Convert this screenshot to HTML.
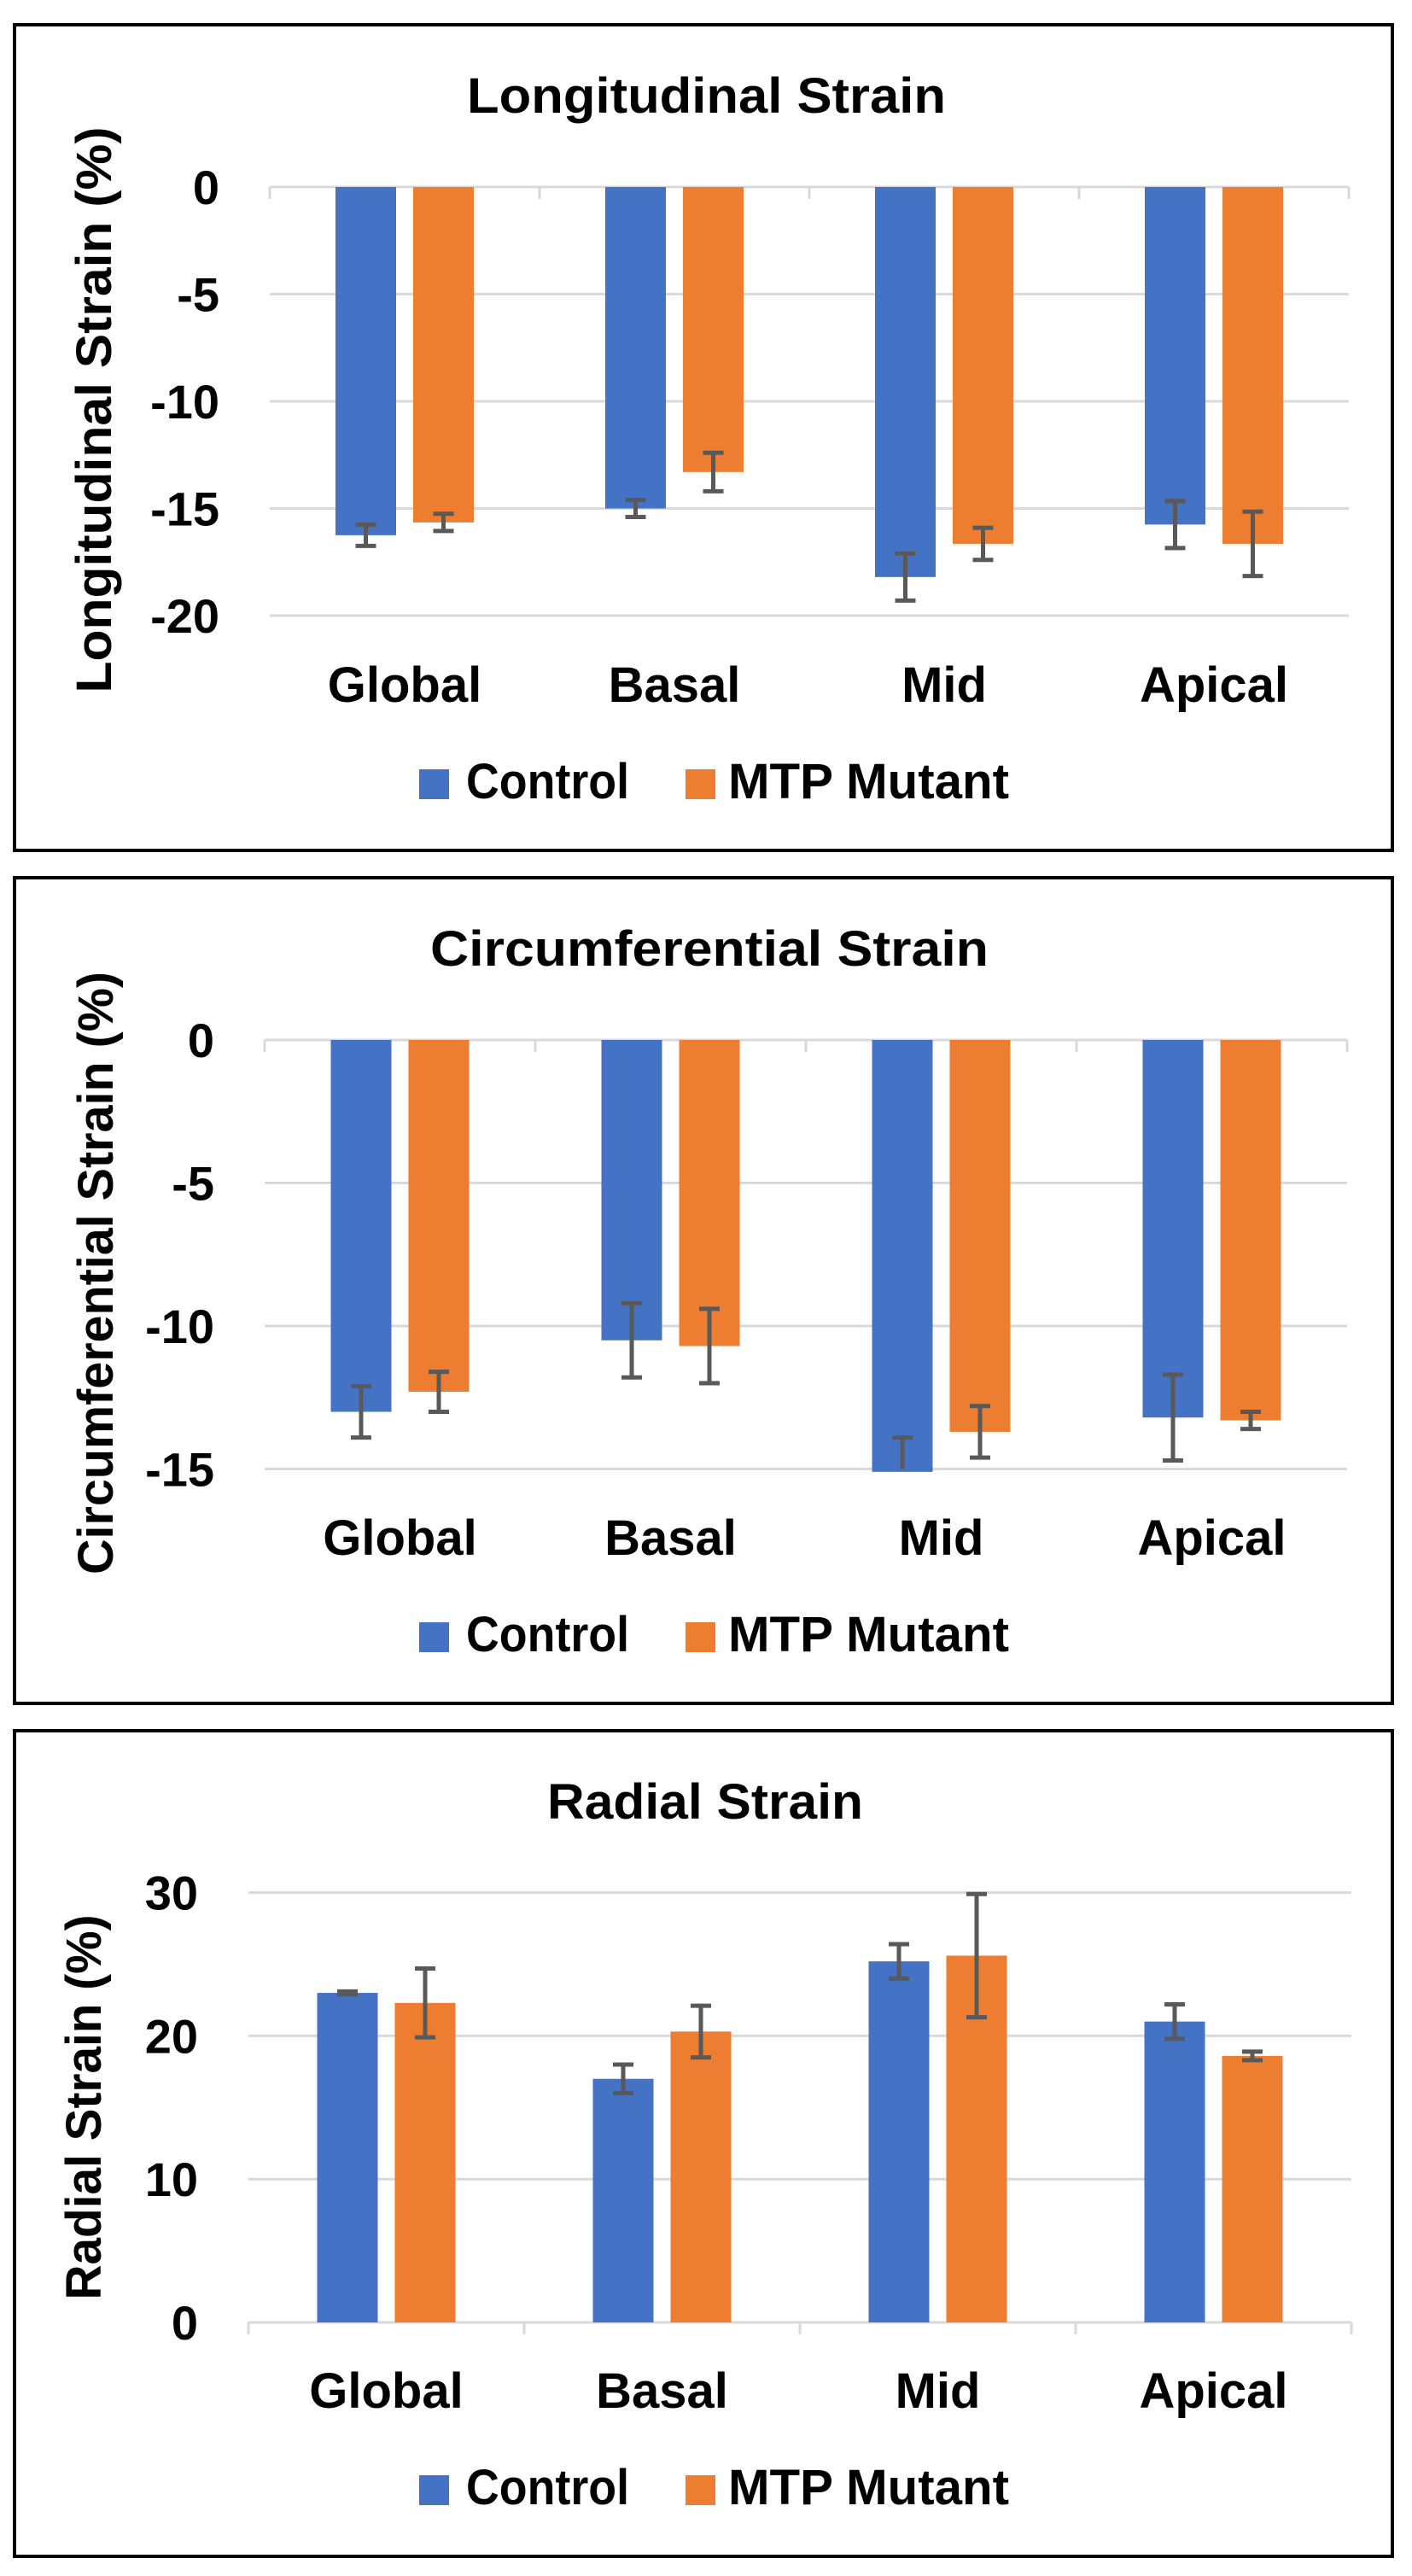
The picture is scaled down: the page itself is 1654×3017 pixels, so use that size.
<!DOCTYPE html>
<html><head><meta charset="utf-8"><style>
html,body{margin:0;padding:0;background:#fff;}
svg{display:block;}
text{font-family:"Liberation Sans",sans-serif;font-weight:bold;fill:#000;}
</style></head>
<body>
<svg id="root" width="1654" height="3017" viewBox="0 0 1654 3017" xmlns="http://www.w3.org/2000/svg"></svg>
<script>
// ---- data ----
const categories = ["Global","Basal","Mid","Apical"];
const longControl = [-16.25,-15.0,-18.2,-15.75];
const longControlErr = [0.5,0.4,1.1,1.1];
const longMutant = [-15.65,-13.3,-16.65,-16.65];
const longMutantErr = [0.4,0.9,0.75,1.5];
const longTicks = [0,-5,-10,-15,-20];
const circControl = [-13.0,-10.5,-15.1,-13.2];
const circControlErr = [0.9,1.3,1.2,1.5];
const circMutant = [-12.3,-10.7,-13.7,-13.3];
const circMutantErr = [0.7,1.3,0.9,0.3];
const circTicks = [0,-5,-10,-15];
const radControl = [23.0,17.0,25.2,21.0];
const radControlErr = [0.1,1.0,1.2,1.2];
const radMutant = [22.3,20.3,25.6,18.6];
const radMutantErr = [2.4,1.8,4.3,0.3];
const radTicks = [0,10,20,30];

const NS="http://www.w3.org/2000/svg";
const root=document.getElementById('root');
function mk(tag,attrs,parent){const e=document.createElementNS(NS,tag);for(const k in attrs)e.setAttribute(k,attrs[k]);(parent||root).appendChild(e);return e;}

function chart(cfg){
  const g=mk('g',{});
  
  
  const T=cfg.top;
  const frame=mk('rect',{x:17,y:T,width:1614,height:967,fill:'#fff',stroke:'#000','stroke-width':4},g);
  
  
  const title=mk('text',{x:cfg.titleX,y:T+103,'font-size':58,textLength:cfg.titleW,lengthAdjust:'spacingAndGlyphs'},g);
  title.textContent=cfg.title;
  
  
  const yt=mk('text',{x:0,y:0,'font-size':58,'text-anchor':'middle',textLength:cfg.ytW,lengthAdjust:'spacingAndGlyphs',transform:`translate(${cfg.ytX+20},${cfg.ytY}) rotate(-90)`},g);
  yt.textContent=cfg.ytitle;
  
  
  const y=v=>cfg.zeroY+(v-cfg.zeroV)*cfg.pxPer;
  const L=cfg.left, cw=cfg.catW;
  cfg.ticks.forEach(t=>{
    const gl=mk('line',{x1:L,x2:L+4*cw,y1:y(t),y2:y(t),stroke:'#d9d9d9','stroke-width':3},g);
    
    
    const tl=mk('text',{x:cfg.labelR,y:y(t)+20,'font-size':56,'text-anchor':'end'},g);
    tl.textContent=String(t);
    
    
  });
  const ay=y(0);
  for(let i=0;i<=4;i++){
    const tk=mk('line',{x1:L+i*cw,x2:L+i*cw,y1:ay,y2:ay+14,stroke:'#d9d9d9','stroke-width':3},g);
    
    
  }
  const yLo=Math.min(y(cfg.ticks[0]),y(cfg.ticks[cfg.ticks.length-1]));
  const yHi=Math.max(y(cfg.ticks[0]),y(cfg.ticks[cfg.ticks.length-1]));
  const clamp=v=>Math.max(yLo,Math.min(yHi,v));
  function bar(v,err,x,color,nm){
    const y0=y(0), y1=y(v);
    const r=mk('rect',{x:x,y:Math.min(y0,y1),width:71,height:Math.abs(y1-y0),fill:color},g);
    
    
    const cx=x+35.5;
    const ra=y(v-err), rb=y(v+err);
    const ya=clamp(ra), yb=clamp(rb);
    let d=`M${cx},${ya}V${yb}`;
    if(ra===ya) d+=`M${cx-12},${ya}H${cx+12}`;
    if(rb===yb) d+=`M${cx-12},${yb}H${cx+12}`;
    const e=mk('path',{d:d,stroke:'#595959','stroke-width':5,fill:'none'},g);
    
    
  }
  categories.forEach((c,i)=>{
    const cx=L+i*cw+cw/2;
    bar(cfg.ctrl[i],cfg.ctrlErr[i],cx-81,'#4472c4','bar-control-'+c.toLowerCase());
    bar(cfg.mut[i],cfg.mutErr[i],cx+10,'#ed7d31','bar-mutant-'+c.toLowerCase());
    const cl=mk('text',{x:cx,y:T+cfg.catY,'font-size':58,'text-anchor':'middle'},g);
    cl.textContent=c;
    
    
  });
  const s1=mk('rect',{x:491,y:T+872,width:35,height:35,fill:'#4472c4'},g);
  
  
  const t1=mk('text',{x:546,y:T+906,'font-size':58,textLength:191,lengthAdjust:'spacingAndGlyphs'},g);
  t1.textContent='Control';
  
  
  const s2=mk('rect',{x:803,y:T+872,width:35,height:35,fill:'#ed7d31'},g);
  
  
  const t2=mk('text',{x:853,y:T+906,'font-size':58,textLength:329,lengthAdjust:'spacingAndGlyphs'},g);
  t2.textContent='MTP Mutant';
  
  
}

chart({name:'longitudinal-strain-chart',top:29,title:'Longitudinal Strain',titleX:547,titleW:561,
  ytitle:'Longitudinal Strain (%)',ytX:110,ytY:480,ytW:663,
  left:316,catW:316,zeroY:219,zeroV:0,pxPer:-25.1,labelR:257,ticks:longTicks,
  ctrl:longControl,ctrlErr:longControlErr,mut:longMutant,mutErr:longMutantErr,catY:793});
chart({name:'circumferential-strain-chart',top:1028,title:'Circumferential Strain',titleX:504,titleW:654,
  ytitle:'Circumferential Strain (%)',ytX:112,ytY:1491,ytW:706,
  left:310,catW:317,zeroY:1218,zeroV:0,pxPer:-33.5,labelR:251,ticks:circTicks,
  ctrl:circControl,ctrlErr:circControlErr,mut:circMutant,mutErr:circMutantErr,catY:793});
chart({name:'radial-strain-chart',top:2027,title:'Radial Strain',titleX:641,titleW:370,
  ytitle:'Radial Strain (%)',ytX:98,ytY:2468,ytW:451,
  left:291,catW:323,zeroY:2720,zeroV:0,pxPer:-16.78,labelR:232,ticks:radTicks,
  ctrl:radControl,ctrlErr:radControlErr,mut:radMutant,mutErr:radMutantErr,catY:793});
</script>
</body></html>
